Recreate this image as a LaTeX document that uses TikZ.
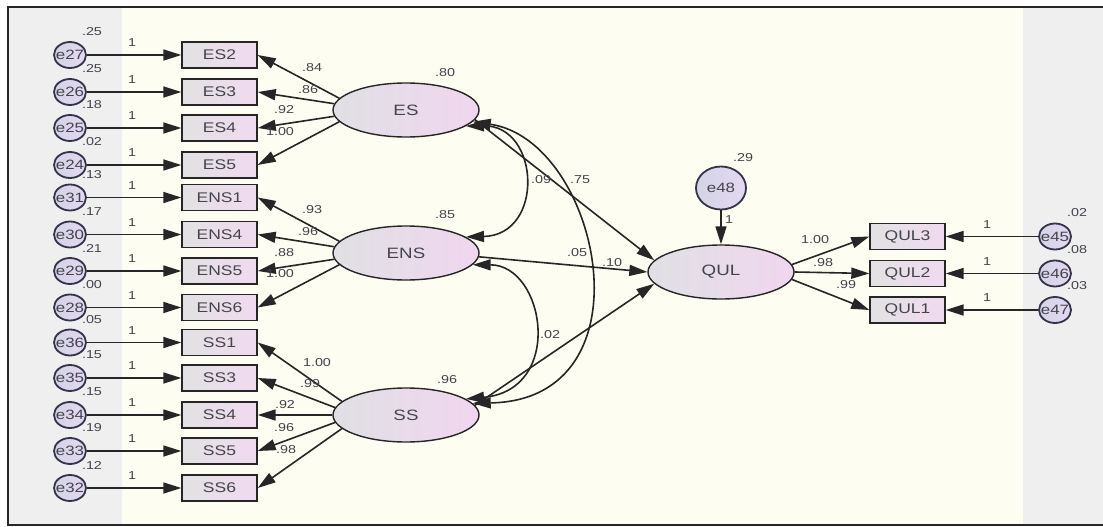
\documentclass[tikz,border=0pt]{standalone}
\usepackage{fontspec}
\setmainfont{Liberation Sans}
\newfontfamily\amosfont[FakeStretch=1.25]{Liberation Sans}
\usetikzlibrary{shapes.geometric,arrows.meta}
\definecolor{ink}{HTML}{262626}
\definecolor{txt}{HTML}{44444C}
\definecolor{panel}{HTML}{EFEFEF}
\definecolor{cream}{HTML}{FDFDF1}
\definecolor{boxL}{HTML}{E2E2E2}
\definecolor{boxR}{HTML}{F0DAF0}
\definecolor{latL}{HTML}{E0E0E4}
\definecolor{latR}{HTML}{F0D6F0}
\definecolor{errL}{HTML}{D4D4E6}
\definecolor{errR}{HTML}{E4D8F0}
\definecolor{errline}{HTML}{33334A}
\begin{document}
\begin{tikzpicture}[x=1pt,y=-1pt,
  every node/.style={text=txt},
  obs/.style={draw=ink, line width=1.4pt, left color=boxL, right color=boxR,
    minimum width=75pt, minimum height=26pt, inner sep=0pt,
    font=\amosfont\fontsize{14}{15}\selectfont},
  err/.style={ellipse, draw=errline, line width=1.8pt, left color=errL, right color=errR,
    minimum width=32pt, minimum height=26pt, inner sep=0pt,
    font=\amosfont\fontsize{13.5}{14}\selectfont},
  lat/.style={ellipse, draw=ink, line width=1.4pt, left color=latL, right color=latR,
    minimum width=146pt, minimum height=54pt, inner sep=0pt,
    font=\amosfont\fontsize{15}{16}\selectfont},
  lbl/.style={font=\amosfont\fontsize{11.5}{12}\selectfont, inner sep=0pt},
  reg/.style={draw=ink, line width=1.6pt, -{Triangle[length=18pt,width=11pt]}},
  cov/.style={draw=ink, line width=1.6pt,
    {Triangle[length=18pt,width=11pt]}-{Triangle[length=18pt,width=11pt]}},
]
\useasboundingbox (0,0) rectangle (1103,527);
% canvas: grey panel, cream drawing area and frame
\fill[white] (0,0) rectangle (1103,527);
\fill[panel] (8,7) rectangle (1103,525);
\fill[cream] (122,8) rectangle (1023,524);
\draw[ink, line width=1.5pt] (1103,7) -- (8,7) -- (8,525) -- (1103,525);

% indicators with their error terms
\foreach \b/\e/\v/\y in {ES2/e27/.25/55, ES3/e26/.25/92, ES4/e25/.18/128, ES5/e24/.02/165,
    ENS1/e31/.13/197.5, ENS4/e30/.17/234.5, ENS5/e29/.21/271, ENS6/e28/.00/307.5,
    SS1/e36/.05/342.5, SS3/e35/.15/378, SS4/e34/.15/415, SS5/e33/.19/451, SS6/e32/.12/488}{
  \node[obs] (\b) at (219.5,\y) {\b};
  \node[err] (\e) at (70,\y) {\makebox[0pt]{\e}};
  \draw[reg] (\e) -- (\b);
  \node[lbl] at (132,\y-12) {1};
  \node[lbl] at (92,\y-23) {\v};
}

% latent factors
\node[lat] (ES)  at (406,110) {ES};
\node[lat] (ENS) at (406,253) {ENS};
\node[lat] (SS)  at (406,415) {SS};
\node[lat] (QUL) at (721,272) {QUL};
\node[lbl] at (445,73)  {.80};
\node[lbl] at (445,215) {.85};
\node[lbl] at (447,380) {.96};

% QUL indicators
\foreach \b/\e/\v/\y in {QUL3/e45/.02/236.5, QUL2/e46/.08/273.5, QUL1/e47/.03/310}{
  \node[obs] (\b) at (907.5,\y) {\b};
  \node[err] (\e) at (1055,\y) {\makebox[0pt]{\e}};
  \draw[reg] (\e) -- (\b);
  \node[lbl] at (987,\y-12) {1};
  \node[lbl] at (1077,\y-24) {\v};
}

% disturbance of QUL
\node[err, minimum width=50pt, minimum height=43pt] (e48) at (721,188) {\makebox[0pt]{e48}};
\draw[reg] (e48) -- (QUL);
\node[lbl] at (729,220) {1};
\node[lbl] at (743,158) {.29};

% loadings of ES
\draw[reg] (ES.170) -- (ES2.east);
\draw[reg] (ES.175) -- (ES3.east);
\draw[reg] (ES.185) -- (ES4.east);
\draw[reg] (ES.190) -- (ES5.east);
\node[lbl] at (312,68)  {.84};
\node[lbl] at (308,90)  {.86};
\node[lbl] at (284,110) {.92};
\node[lbl] at (280,132) {1.00};

% loadings of ENS
\draw[reg] (ENS.170) -- (ENS1.east);
\draw[reg] (ENS.175) -- (ENS4.east);
\draw[reg] (ENS.185) -- (ENS5.east);
\draw[reg] (ENS.190) -- (ENS6.east);
\node[lbl] at (312,210) {.93};
\node[lbl] at (308,232) {.96};
\node[lbl] at (284,253) {.88};
\node[lbl] at (280,274) {1.00};

% loadings of SS
\draw[reg] (SS.168) -- (SS1.east);
\draw[reg] (SS.174) -- (SS3.east);
\draw[reg] (SS.180) -- (SS4.east);
\draw[reg] (SS.186) -- (SS5.east);
\draw[reg] (SS.192) -- (SS6.east);
\node[lbl] at (317,363) {1.00};
\node[lbl] at (310,384) {.99};
\node[lbl] at (285,405) {.92};
\node[lbl] at (284,428) {.96};
\node[lbl] at (286,450) {.98};

% loadings of QUL
\draw[reg] (QUL.6)    -- (QUL3.west);
\draw[reg] (QUL.east) -- (QUL2.west);
\draw[reg] (QUL.-6)   -- (QUL1.west);
\node[lbl] at (815,240) {1.00};
\node[lbl] at (823,263) {.98};
\node[lbl] at (846,285) {.99};

% structural paths
\draw[reg] (ES.-8)  -- (QUL.170);
\draw[reg] (ENS.-3) -- (QUL.west);
\draw[reg] (SS.8)   -- (QUL.190);
\node[lbl] at (577,253) {.05};
\node[lbl] at (612,263) {.10};

% factor covariances
\draw[cov] (ES.-15) .. controls (540,125) and (545,235) .. (ENS.15);
\draw[cov] (ES.-10) .. controls (600,140) and (655,400) .. (SS.10);
\draw[cov] (ENS.-10) .. controls (545,265) and (565,390) .. (SS.15);
\node[lbl] at (541,180) {.09};
\node[lbl] at (580,180) {.75};
\node[lbl] at (550,335) {.02};
\end{tikzpicture}
\end{document}
